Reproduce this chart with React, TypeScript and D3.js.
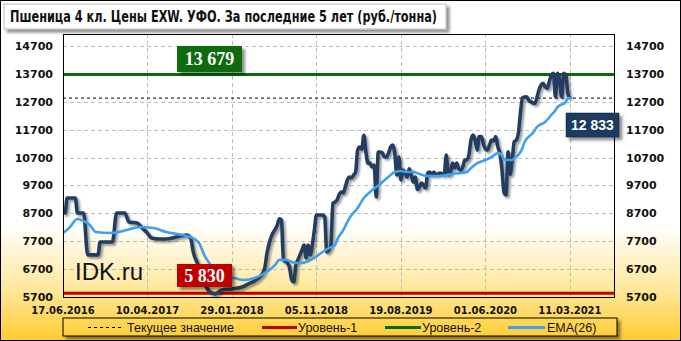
import React from 'react';
import * as d3 from 'd3';

const W = 681;
const H = 341;

const title = 'Пшеница 4 кл. Цены EXW. УФО. За последние 5 лет (руб./тонна)';
const xTickIdx = [0, 41, 82, 123, 164, 205, 246];
const xTickLabels = ['17.06.2016', '10.04.2017', '29.01.2018', '05.11.2018', '19.08.2019', '01.06.2020', '11.03.2021'];
const yTicks = [5700, 6700, 7700, 8700, 9700, 10700, 11700, 12700, 13700, 14700];

const level1 = 5830;
const level2 = 13679;
const current = 12833;

const price: [number, number][] = [
  [0, 8710], [1, 8710], [2, 9250], [6, 9250], [7, 8710], [10, 8710], [12, 7210], [17, 7210], [18, 7670], [24, 7670],
  [26, 8710], [30, 8710], [32, 8390], [36, 8350], [38, 8210], [41, 7990], [43, 7815], [47, 7780], [50, 7780], [53, 7815],
  [57, 7890], [60, 7920], [62, 7815], [63, 7385], [66, 6775], [68, 6310], [72, 5845], [74, 5810], [77, 5950], [82, 5990],
  [87, 6060], [90, 6170], [92, 6240], [95, 6380], [97, 6560], [98, 6775], [99, 7280], [101, 7850], [104, 8280], [105, 8500],
  [106, 8460], [107, 7030], [109, 6920], [110, 6740], [111, 6310], [112, 6240], [113, 6850], [114, 7030], [116, 7385], [117, 7560],
  [118, 7100], [119, 7560], [120, 7210], [121, 7560], [122, 8100], [123, 8640], [126, 8640], [127, 8570], [128, 7310], [129, 7385],
  [130, 7560], [131, 9070], [132, 9105], [133, 9180], [134, 9360], [135, 9465], [136, 9430], [137, 9645], [138, 9895], [139, 10000],
  [140, 9965], [141, 10075], [142, 10180], [143, 10970], [144, 11080], [145, 11000], [146, 11500], [147, 10900], [148, 10500], [149, 10500],
  [150, 10360], [151, 10430], [152, 9290], [153, 10900], [154, 10900], [155, 10860], [156, 10720], [157, 10720], [158, 10860], [159, 11080],
  [160, 11150], [161, 10860], [162, 10075], [163, 10720], [164, 9900], [165, 10250], [166, 10180], [167, 10000], [168, 10300], [169, 10075],
  [170, 9820], [171, 10000], [172, 9560], [173, 9645], [174, 9790], [175, 9700], [176, 9610], [177, 10145], [178, 10180], [179, 10075],
  [180, 10180], [181, 10075], [183, 10145], [185, 10075], [186, 10790], [187, 10075], [188, 10145], [189, 10500], [190, 10330], [191, 10500],
  [192, 10300], [193, 10250], [194, 10360], [195, 10610], [196, 10610], [197, 10800], [198, 11330], [199, 11510], [200, 11330], [201, 10970],
  [202, 11450], [203, 11450], [204, 11200], [205, 11010], [206, 10970], [207, 11150], [208, 11330], [209, 11300], [210, 11450], [211, 11090],
  [212, 10850], [213, 10300], [214, 9450], [215, 9355], [216, 10910], [217, 10100], [218, 10610], [219, 11270], [220, 11330], [221, 11570],
  [222, 12300], [223, 12850], [225, 12880], [226, 12760], [227, 12700], [229, 12640], [230, 12850], [231, 13120], [232, 13300], [233, 13360],
  [234, 13240], [235, 13180], [236, 13420], [237, 13660], [238, 13720], [239, 12880], [240, 13720], [241, 13480], [242, 12880], [243, 13720],
  [244, 13660], [245, 13000], [246, 12833],
];

const ema: [number, number][] = [
  [0, 7995], [3, 8175], [7, 8495], [10, 8425], [13, 8280], [16, 8030], [23, 7995], [31, 8100], [37, 8210], [44, 8175],
  [50, 8030], [58, 7920], [63, 7815], [66, 7635], [69, 7135], [74, 6670], [79, 6450], [83, 6380], [88, 6310], [93, 6380],
  [98, 6560], [103, 6850], [105, 7030], [108, 7030], [113, 6920], [116, 6920], [119, 6990], [122, 7100], [126, 7315], [129, 7455],
  [132, 7565], [133, 7745], [136, 8100], [139, 8530], [143, 8890], [146, 9250], [149, 9465], [152, 9645], [155, 9820], [159, 10075],
  [161, 10180], [164, 10220], [167, 10180], [170, 10180], [173, 10110], [177, 10040], [180, 10040], [183, 10040], [186, 10075], [189, 10110],
  [193, 10145], [196, 10180], [198, 10325], [201, 10500], [205, 10610], [208, 10720], [211, 10860], [213, 10790], [214, 10610], [218, 10610],
  [219, 10680], [221, 10790], [223, 11040], [224, 11260], [228, 11580], [230, 11795], [234, 11975], [237, 12225], [239, 12400], [240, 12510],
  [244, 12690], [245, 12830], [247, 12833],
];

const legendItems = ['Текущее значение', 'Уровень-1', 'Уровень-2', 'EMA(26)'];

const fmt = (v: number) => d3.format(',')(v).replace(',', ' ');

export default function App() {
  React.useEffect(() => {
    document.body.style.margin = '0';
  }, []);

  const left = 63, right = 614, top = 34, bottom = 297;
  const x = d3.scaleLinear().domain([0, 267.4]).range([left, right]);
  const y = d3.scaleLinear().domain([5700, 15130]).range([bottom, top]);
  const line = d3.line<[number, number]>().x(d => x(d[0])).y(d => y(d[1])).curve(d3.curveMonotoneX);

  const axisFont = 'DejaVu Sans, Verdana, sans-serif';
  const darkBlue = '#243D61';
  const emaColor = '#3DA0F2';
  const red = '#C00000';
  const green = '#0B6B0B';

  return (
    <svg width={W} height={H} style={{ position: 'absolute', left: 0, top: 0 }}>
      <defs>
        <linearGradient id="bg" x1="0" y1="0" x2="0" y2={H} gradientUnits="userSpaceOnUse">
          <stop offset="0" stopColor="#FFFFFF" />
          <stop offset="0.66" stopColor="#FFFFFF" />
          <stop offset="0.85" stopColor="#FFE79A" />
          <stop offset="1" stopColor="#FFCB2E" />
        </linearGradient>
        <filter id="shadow" x="-10%" y="-10%" width="130%" height="140%">
          <feDropShadow dx="2" dy="2" stdDeviation="1.3" floodColor="#000" floodOpacity="0.4" />
        </filter>
        <filter id="boxShadow" x="-10%" y="-20%" width="130%" height="160%">
          <feDropShadow dx="3" dy="3" stdDeviation="1.5" floodColor="#000" floodOpacity="0.45" />
        </filter>
        <clipPath id="plotClip">
          <rect x={left} y={top} width={right - left} height={bottom - top + 3} />
        </clipPath>
      </defs>

      <rect x={0.5} y={0.5} width={W - 1} height={H - 1} fill="url(#bg)" stroke="#000" />

      {/* title */}
      <rect x={4} y={4} width={442} height={25} fill="#fff" stroke="#bbb" filter="url(#boxShadow)" />
      <text x={10} y={22} fontFamily="Liberation Sans Narrow, DejaVu Sans Condensed, Arial, sans-serif" fontWeight="bold" fontSize={15}
        textLength={427} lengthAdjust="spacingAndGlyphs" fill="#111">{title}</text>

      {/* grid */}
      <g stroke="#BDBDBD" strokeDasharray="4,3" strokeWidth={1}>
        {yTicks.filter(t => t > 5700).map(t => (
          <line key={t} x1={left} x2={right} y1={Math.round(y(t)) + 0.5} y2={Math.round(y(t)) + 0.5} />
        ))}
        {xTickIdx.filter(i => i > 0).map(i => (
          <line key={i} x1={Math.round(x(i)) + 0.5} x2={Math.round(x(i)) + 0.5} y1={top} y2={bottom} />
        ))}
      </g>

      {/* y labels */}
      <g fontFamily={axisFont} fontWeight="bold" fontSize={11} fill="#111">
        {yTicks.map(t => (
          <text key={'l' + t} x={53} y={y(t)} dy="0.36em" textAnchor="end">{t}</text>
        ))}
        {yTicks.map(t => (
          <text key={'r' + t} x={626} y={y(t)} dy="0.36em" textAnchor="start">{t}</text>
        ))}
      </g>
      {/* x labels */}
      <g fontFamily={axisFont} fontWeight="bold" fontSize={10} fill="#111">
        {xTickIdx.map((i, k) => (
          <text key={i} x={x(i)} y={314} textAnchor="middle">{xTickLabels[k]}</text>
        ))}
      </g>

      <text x={75} y={280} fontFamily="Liberation Sans, Arial, sans-serif" fontSize={24} fill="#111">IDK.ru</text>

      <g clipPath="url(#plotClip)">
        <line x1={left} x2={right} y1={y(current)} y2={y(current)} stroke="#000" strokeWidth={1} strokeDasharray="3,3" />
        <line x1={left} x2={right} y1={y(level1)} y2={y(level1)} stroke={red} strokeWidth={3} />
        <line x1={left} x2={right} y1={y(level2)} y2={y(level2)} stroke={green} strokeWidth={3} />
        <path d={line(price) || ''} fill="none" stroke={darkBlue} strokeWidth={3.6} strokeLinejoin="round" filter="url(#shadow)" />
        <path d={line(ema) || ''} fill="none" stroke={emaColor} strokeWidth={2.6} strokeLinejoin="round" />
      </g>

      <rect x={left + 0.5} y={top + 0.5} width={right - left} height={bottom - top} fill="none" stroke="#000" strokeWidth={1} />

      {/* value labels */}
      <g filter="url(#boxShadow)">
        <rect x={177} y={46} width={65} height={26} fill={green} />
        <rect x={177} y={264} width={55} height={23} fill={red} />
        <rect x={566} y={113} width={53} height={24} fill="#1E3A60" stroke="#0b1a30" strokeWidth={0.5} />
      </g>
      <text x={209.5} y={65} textAnchor="middle" fontFamily="Liberation Serif, Times New Roman, serif" fontWeight="bold" fontSize={18} fill="#fff">{fmt(level2)}</text>
      <text x={204.5} y={282} textAnchor="middle" fontFamily="Liberation Serif, Times New Roman, serif" fontWeight="bold" fontSize={18} fill="#fff">{fmt(level1)}</text>
      <text x={592.5} y={130} textAnchor="middle" fontFamily="Liberation Sans, Arial, sans-serif" fontWeight="bold" fontSize={14} fill="#fff">{fmt(current)}</text>

      {/* legend */}
      <rect x={63} y={318} width={554} height={18} fill="url(#bg)" stroke="#000" strokeWidth={1} filter="url(#boxShadow)" />
      <g fontFamily="Liberation Sans, Arial, sans-serif" fontSize={12.5} fill="#111">
        <line x1={88} x2={123} y1={327.5} y2={327.5} stroke="#000" strokeWidth={1} strokeDasharray="3,3" />
        <text x={127} y={332}>{legendItems[0]}</text>
        <line x1={262} x2={297} y1={327.5} y2={327.5} stroke={red} strokeWidth={3} />
        <text x={298} y={332}>{legendItems[1]}</text>
        <line x1={385} x2={421} y1={327.5} y2={327.5} stroke={green} strokeWidth={3} />
        <text x={422} y={332}>{legendItems[2]}</text>
        <line x1={508} x2={545} y1={327.5} y2={327.5} stroke={emaColor} strokeWidth={3} />
        <text x={547} y={332}>{legendItems[3]}</text>
      </g>
    </svg>
  );
}
